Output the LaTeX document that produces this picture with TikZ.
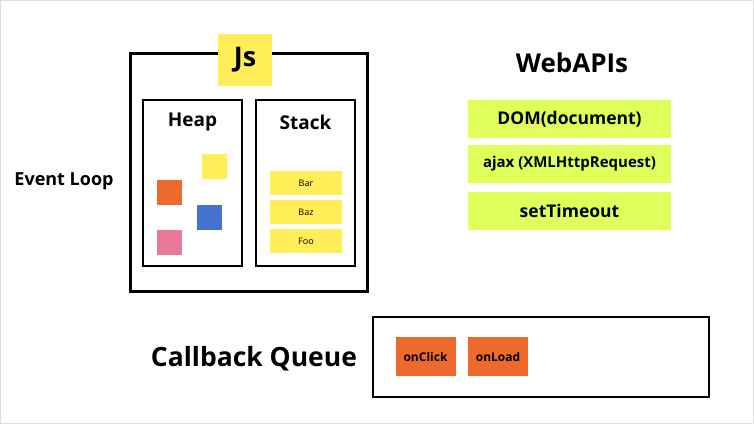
\documentclass[tikz,border=0pt]{standalone}
\usepackage{fontspec}
\setmainfont{Open Sans}
\usetikzlibrary{positioning}
\definecolor{jsyellow}{HTML}{FFEE58}
\definecolor{apilime}{HTML}{E0FF5A}
\definecolor{cborange}{HTML}{EE6A2C}
\definecolor{heapblue}{HTML}{4472D0}
\definecolor{heappink}{HTML}{EA7898}
\tikzset{
  panel/.style={draw, line width=2pt, minimum width=99pt, minimum height=166pt},
  title/.style={font=\bfseries\fontsize{19}{22}\selectfont},
  blob/.style={minimum size=25pt, inner sep=0pt},
  frame/.style={fill=jsyellow, minimum width=72pt, minimum height=24pt, inner sep=0pt, font=\fontsize{9}{10}\selectfont},
  api/.style={fill=apilime, minimum width=203pt, minimum height=38pt, inner sep=0pt},
  cb/.style={fill=cborange, minimum width=60pt, minimum height=39pt, inner sep=0pt, font=\bfseries\fontsize{12}{14}\selectfont}
}
\begin{document}
\begin{tikzpicture}[x=1pt, y=-1pt]
    \useasboundingbox (0,0) rectangle (754,424);
    \draw[gray!25] (0.5,0.5) rectangle (753.5,423.5);
    % js engine
    \node[draw, line width=3pt, minimum width=237pt, minimum height=238pt] (engine) at (248.5,172) {};
    \node[fill=jsyellow, minimum width=54pt, minimum height=52pt, inner sep=0pt, font=\bfseries\fontsize{27}{30}\selectfont] (js) at (245,60) {Js};
    \node[panel] (heap) at (192.5,183) {};
    \node[panel] (stack) at (305.5,183) {};
    \node[title] (heaplbl) at (192.5,122) {Heap};
    \node[title] (stacklbl) at (305.5,122) {Stack};
    % heap objects
    \node[blob, fill=jsyellow] (obj1) at (214.5,166.5) {};
    \node[blob, fill=cborange] (obj2) at (169.5,192.5) {};
    \node[blob, fill=heapblue] (obj3) at (209.5,217.5) {};
    \node[blob, fill=heappink] (obj4) at (169.5,242.5) {};
    % call stack
    \node[frame] (bar) at (306,183) {Bar};
    \node[frame] (baz) at (306,212) {Baz};
    \node[frame] (foo) at (306,241) {Foo};
    \node[font=\bfseries\fontsize{18}{21}\selectfont] (loop) at (64,181) {Event Loop};
    % web apis
    \node[font=\bfseries\fontsize{26}{30}\selectfont] (webapis) at (572,63) {WebAPIs};
    \node[api, font=\bfseries\fontsize{17.5}{20}\selectfont] (dom) at (569.5,119) {DOM(document)};
    \node[api, font=\bfseries\fontsize{15}{18}\selectfont] (ajax) at (569.5,164) {ajax (XMLHttpRequest)};
    \node[api, font=\bfseries\fontsize{17.5}{20}\selectfont] (timeout) at (569.5,211) {setTimeout};
    % callback queue
    \node[font=\bfseries\fontsize{26.5}{30}\selectfont] (cblbl) at (254,359) {Callback Queue};
    \node[draw, line width=2pt, minimum width=336pt, minimum height=80pt] (queue) at (541,357) {};
    \node[cb] (click) at (425.5,356.5) {onClick};
    \node[cb] (load) at (498,356.5) {onLoad};
\end{tikzpicture}
\end{document}
